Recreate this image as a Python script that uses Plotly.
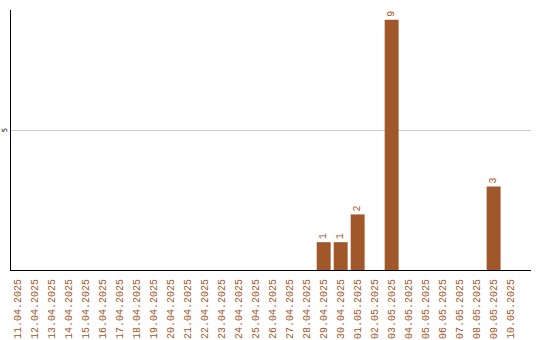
import plotly.graph_objects as go

# Daily counts, 11.04.2025 – 10.05.2025
dates = [
    "11.04.2025", "12.04.2025", "13.04.2025", "14.04.2025", "15.04.2025",
    "16.04.2025", "17.04.2025", "18.04.2025", "19.04.2025", "20.04.2025",
    "21.04.2025", "22.04.2025", "23.04.2025", "24.04.2025", "25.04.2025",
    "26.04.2025", "27.04.2025", "28.04.2025", "29.04.2025", "30.04.2025",
    "01.05.2025", "02.05.2025", "03.05.2025", "04.05.2025", "05.05.2025",
    "06.05.2025", "07.05.2025", "08.05.2025", "09.05.2025", "10.05.2025",
]
counts = [
    0, 0, 0, 0, 0, 0, 0, 0, 0, 0,
    0, 0, 0, 0, 0, 0, 0, 0, 1, 1,
    2, 0, 9, 0, 0, 0, 0, 0, 3, 0,
]

BAR_COLOR = "#a0582a"
MONO = "Liberation Mono, DejaVu Sans Mono, monospace"

labels = [str(v) if v > 0 else "" for v in counts]

fig = go.Figure(
    go.Bar(
        x=dates,
        y=counts,
        marker=dict(color=BAR_COLOR, line=dict(width=0)),
        width=0.82,
        text=labels,
        textposition="outside",
        textangle=-90,
        textfont=dict(family=MONO, size=10, color=BAR_COLOR),
        cliponaxis=False,
    )
)

fig.update_layout(
    width=540,
    height=340,
    margin=dict(l=11, r=9, t=10, b=70, autoexpand=False),
    paper_bgcolor="white",
    plot_bgcolor="white",
    showlegend=False,
    bargap=0.18,
    xaxis=dict(
        type="category",
        range=[-0.4, 30.2],
        automargin=False,
        showgrid=False,
        showline=True,
        linecolor="black",
        linewidth=1,
        ticks="",
        tickangle=-90,
        ticklabelstandoff=4,
        tickfont=dict(family=MONO, size=10, color=BAR_COLOR),
        fixedrange=True,
    ),
    yaxis=dict(
        range=[0, 9.35],
        automargin=False,
        tickvals=[5],
        ticktext=["5"],
        tickangle=-90,
        tickfont=dict(family="DejaVu Sans, sans-serif", size=7, color="black"),
        showgrid=True,
        gridcolor="#cccccc",
        gridwidth=1,
        zeroline=False,
        showline=True,
        linecolor="black",
        linewidth=1,
        ticks="",
        ticklabelstandoff=0,
        fixedrange=True,
    ),
)

fig.write_html("out.html")
